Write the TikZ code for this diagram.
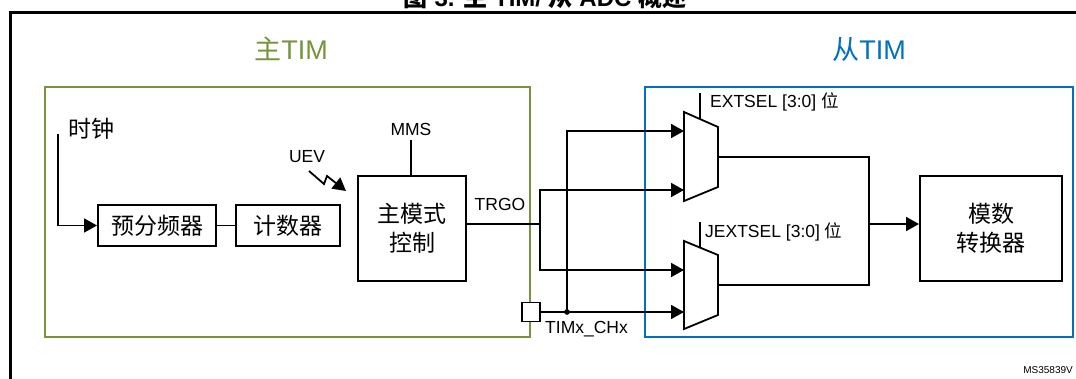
\documentclass[tikz,border=0pt]{standalone}
\usepackage{fontspec}
\setmainfont{Liberation Sans}
\newfontfamily\cjk{Noto Sans CJK SC}
\usepackage{xcolor}
\usepackage{tikz}
\usetikzlibrary{arrows.meta,calc}
\definecolor{timgreen}{RGB}{119,147,60}
\definecolor{timblue}{RGB}{0,112,192}

\begin{document}
\begin{tikzpicture}[x=1pt, y=-1pt, every node/.style={inner sep=0pt},
    lbl/.style={font=\fontsize{17.5}{21}\selectfont},
    zh/.style={font=\fontsize{23}{29}\selectfont\cjk, align=center},
    blk/.style={draw, line width=2pt, zh},
    arr/.style={-{Triangle[length=13pt, width=14pt]}},
    wire/.style={line width=1.8pt},
    dot/.style={circle, fill, inner sep=2pt}]
  \useasboundingbox (0,0) rectangle (1076,378);
  \draw[line width=3pt] (10,420) -- (10,12) -- (1100,12);
  \node[anchor=base, font=\fontsize{24}{28}\selectfont\bfseries] (title) at (545,6)
    {{\cjk 图} 3. {\cjk 主} TIM/ {\cjk 从} ADC {\cjk 概述}};
  \node[anchor=south east, font=\fontsize{10}{12}\selectfont] (ms) at (1073,374) {MS35839V};

  \draw[timgreen, line width=1.6pt] (45,87) rectangle (530,337);
  \draw[timblue, line width=1.6pt] (645,87) rectangle (1073,337);
  \node[timgreen, font=\fontsize{27}{32}\selectfont] (master tim) at (291,49) {{\cjk 主}TIM};
  \node[timblue, font=\fontsize{27}{32}\selectfont] (slave tim) at (869,49) {{\cjk 从}TIM};

  \node[blk, minimum width=118, minimum height=41] (psc) at (157,225.5) {预分频器};
  \node[blk, minimum width=104, minimum height=41] (cnt) at (288,225.5) {计数器};
  \node[blk, minimum width=108, minimum height=105] (mmc) at (412,228.5) {主模式\\控制};
  \node[blk, minimum width=142, minimum height=105] (adc) at (991,228.5) {模数\\转换器};

  \node[zh, anchor=west] (clk) at (68,129) {时钟};
  \coordinate (clk in) at (58,134);
  \draw[wire, arr] (clk in) |- (psc.west);
  \draw[wire] (psc) -- (cnt);

  \node[lbl] (mms) at (411,129) {MMS};
  \draw[wire] (mms.south |- 0,140) -- (mms.south |- mmc.north);
  \node[lbl] (uev) at (307,157) {UEV};
  \draw[wire, arr] (309,171) -- (324,184) -- (327,176) -- (346,191);

  \node[lbl] (trgo) at (500,204) {TRGO};
  \coordinate (br) at (540,224);
  \draw[wire] (mmc.east |- br) -- (br);

  % multiplexers
  \draw[wire] (684,112) -- (718,127) -- (718,187) -- (684,201) -- cycle;
  \draw[wire] (684,241) -- (718,255) -- (718,315) -- (684,329) -- cycle;
  \coordinate (m1a) at (684,131);
  \coordinate (m1b) at (684,190);
  \coordinate (m1o) at (718,157);
  \coordinate (m2a) at (684,270);
  \coordinate (m2b) at (684,312);
  \coordinate (m2o) at (718,285);
  \draw[wire, arr] (br) |- (m1b);
  \draw[wire, arr] (br) |- (m2a);

  \node[draw, fill=white, line width=1.8pt, minimum width=18, minimum height=19] (chx) at (531,312) {};
  \node[lbl, anchor=west] (chx lbl) at (545,329) {TIMx\_CHx};
  \node[dot] (split) at (567,312) {};
  \draw[wire, arr] (chx.east) -- (m2b);
  \draw[wire, arr] (split.center) |- (m1a);

  \draw[wire] (700,93) -- (700,119);
  \node[lbl, anchor=west] (extsel) at (710,102) {EXTSEL [3:0] {\cjk 位}};
  \draw[wire] (700,222) -- (700,248);
  \node[lbl, anchor=west] (jextsel) at (705,232) {JEXTSEL [3:0] {\cjk 位}};

  \coordinate (mg) at (869,224);
  \draw[wire] (m1o) -| (mg) |- (m2o);
  \draw[wire, arr] (mg) -- (mg -| adc.west);
\end{tikzpicture}
\end{document}
